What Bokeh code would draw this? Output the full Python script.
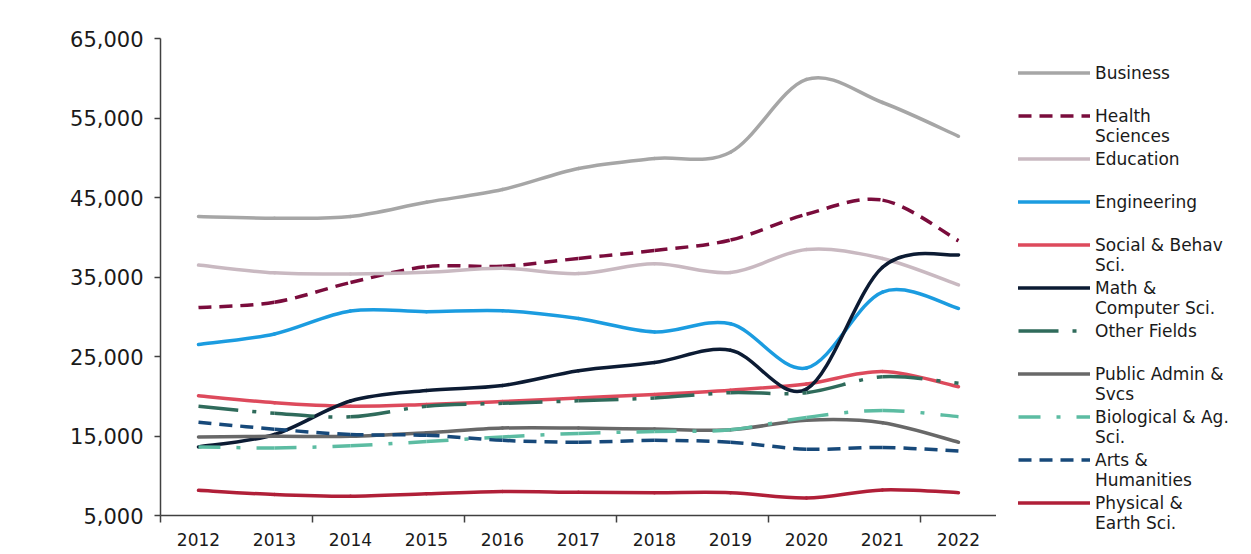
import numpy as np
from bokeh.plotting import figure
from bokeh.layouts import row
from bokeh.models import Legend, LegendItem, FixedTicker, NumeralTickFormatter, Range1d
from bokeh.embed import file_html
from bokeh.resources import INLINE

years = ["2012", "2013", "2014", "2015", "2016", "2017", "2018", "2019", "2020", "2021", "2022"]

business = [42600, 42400, 42600, 44400, 46000, 48650, 49900, 50700, 59850, 56950, 52700]
health = [31160, 31830, 34300, 36300, 36350, 37340, 38330, 39650, 42890, 44670, 39560]
education = [36500, 35520, 35380, 35600, 36090, 35430, 36660, 35570, 38460, 37330, 34000]
engineering = [26510, 27840, 30720, 30640, 30760, 29780, 28090, 29110, 23560, 33110, 31040]
social = [20070, 19180, 18740, 18960, 19340, 19780, 20220, 20760, 21550, 23110, 21200]
math_cs = [13630, 15190, 19400, 20720, 21350, 23210, 24240, 25790, 20900, 36220, 37780]
other = [18740, 17860, 17410, 18740, 19110, 19430, 19780, 20450, 20450, 22450, 21640]
public = [14880, 14960, 14960, 15410, 16000, 16000, 15870, 15780, 16980, 16670, 14220]
bio = [13630, 13500, 13770, 14300, 14880, 15330, 15560, 15780, 17340, 18220, 17430]
arts = [16740, 15860, 15190, 15100, 14450, 14220, 14450, 14220, 13340, 13560, 13110]
physical = [8170, 7640, 7420, 7730, 8020, 7920, 7870, 7870, 7200, 8220, 7870]

series = [
    (["Business"], business, "#a6a6a6", "solid"),
    (["Health", "Sciences"], health, "#7a0c3c", "13 8"),
    (["Education"], education, "#c9b9c1", "solid"),
    (["Engineering"], engineering, "#1b9ce0", "solid"),
    (["Social & Behav", "Sci."], social, "#dd4a5c", "solid"),
    (["Math &", "Computer Sci."], math_cs, "#0c1b33", "solid"),
    (["Other Fields"], other, "#2f6b5b", "40 14 4 14"),
    (["Public Admin &", "Svcs"], public, "#686868", "solid"),
    (["Biological & Ag.", "Sci."], bio, "#5cbca2", "22 16 4 16"),
    (["Arts &", "Humanities"], arts, "#17497a", "13 8"),
    (["Physical &", "Earth Sci."], physical, "#b01f38", "solid"),
]

FONT = "DejaVu Sans"


def smooth_segments(vals):
    x = np.arange(len(vals), dtype=float)
    y = np.asarray(vals, dtype=float)
    xp = np.concatenate([[x[0]], x, [x[-1]]])
    yp = np.concatenate([[y[0]], y, [y[-1]]])
    n = len(y) - 1
    cx0 = x[:-1] + (xp[2:n + 2] - xp[0:n]) / 6.0
    cy0 = y[:-1] + (yp[2:n + 2] - yp[0:n]) / 6.0
    cx1 = x[1:] - (xp[3:n + 3] - xp[1:n + 1]) / 6.0
    cy1 = y[1:] - (yp[3:n + 3] - yp[1:n + 1]) / 6.0
    return dict(x0=x[:-1], y0=y[:-1], x1=x[1:], y1=y[1:],
                cx0=cx0, cy0=cy0, cx1=cx1, cy1=cy1)


p = figure(frame_width=836, frame_height=477,
           x_range=Range1d(-0.5, len(years) - 0.5),
           y_range=Range1d(5000, 65000),
           output_backend="svg", toolbar_location=None,
           min_border_left=160, min_border_right=0,
           min_border_top=38, min_border_bottom=39)
p.outline_line_color = None
p.xgrid.visible = False
p.ygrid.visible = False
p.background_fill_color = "white"
p.border_fill_color = "white"

# separate panel holding the legend
lg = figure(width=255, height=554, x_range=Range1d(0, 1), y_range=Range1d(0, 1),
            output_backend="svg", toolbar_location=None,
            min_border_left=0, min_border_right=0, min_border_top=0, min_border_bottom=0)
lg.axis.visible = False
lg.xgrid.visible = False
lg.ygrid.visible = False
lg.outline_line_color = None
lg.background_fill_color = "white"
lg.border_fill_color = "white"

unaligned = "frame_align" in lg.properties()
if unaligned:
    lg.frame_align = False
    loc_a, loc_b = (22, 41), (22, 21)
else:
    loc_a, loc_b = (22, 2), (22, -18)

items_first = []
items_second = []
for lines, vals, color, dash in series:
    seg = smooth_segments(vals)
    cap = "round" if dash == "solid" else "butt"
    p.bezier(x0=seg["x0"], y0=seg["y0"], x1=seg["x1"], y1=seg["y1"],
             cx0=seg["cx0"], cy0=seg["cy0"], cx1=seg["cx1"], cy1=seg["cy1"],
             line_color=color, line_width=3.5, line_dash=dash, line_cap=cap)
    # legend key carriers: a single undefined point, nothing is drawn in the panel
    key = lg.line(x=[np.nan], y=[np.nan], line_color=color, line_width=3.5,
                  line_dash=dash, line_cap=cap)
    blank = lg.line(x=[np.nan], y=[np.nan], line_alpha=0)
    items_first.append(LegendItem(label=lines[0], renderers=[key]))
    items_second.append(LegendItem(label=lines[1] if len(lines) > 1 else " ",
                                   renderers=[blank]))

common = dict(glyph_width=72, glyph_height=21, label_height=21,
              spacing=22, padding=0, margin=0, label_standoff=5,
              label_text_font=FONT, label_text_font_size="17px",
              label_text_color="#1a1a1a",
              border_line_color=None, background_fill_alpha=0)
legend_a = Legend(items=items_first, location=loc_a, **common)
legend_b = Legend(items=items_second, location=loc_b, **common)
lg.add_layout(legend_a, "center")
lg.add_layout(legend_b, "center")

# axes
xa = p.xaxis[0]
xa.ticker = FixedTicker(ticks=list(range(len(years))),
                        minor_ticks=[-0.5, 1.5, 3.5, 5.5, 7.5, 9.5])
xa.major_label_overrides = {i: y for i, y in enumerate(years)}
xa.major_tick_out = 0
xa.major_tick_in = 0
xa.minor_tick_out = 7
xa.minor_tick_in = 0
xa.minor_tick_line_color = "#404040"
xa.minor_tick_line_width = 1.5
xa.axis_line_color = "#404040"
xa.axis_line_width = 1.5
xa.major_label_standoff = 10
xa.major_label_text_font = FONT
xa.major_label_text_font_size = "17px"
xa.major_label_text_color = "#1a1a1a"

ya = p.yaxis[0]
ya.ticker = FixedTicker(ticks=[5000, 15000, 25000, 35000, 45000, 55000, 65000])
ya.formatter = NumeralTickFormatter(format="0,0")
ya.minor_tick_line_color = None
ya.major_tick_out = 6
ya.major_tick_in = 0
ya.major_tick_line_color = "#404040"
ya.major_tick_line_width = 1.5
ya.axis_line_color = "#404040"
ya.axis_line_width = 1.5
ya.major_label_standoff = 11
ya.major_label_text_font = FONT
ya.major_label_text_font_size = "21px"
ya.major_label_text_color = "#1a1a1a"

layout = row(p, lg)
open("out.html", "w").write(file_html(layout, INLINE))
